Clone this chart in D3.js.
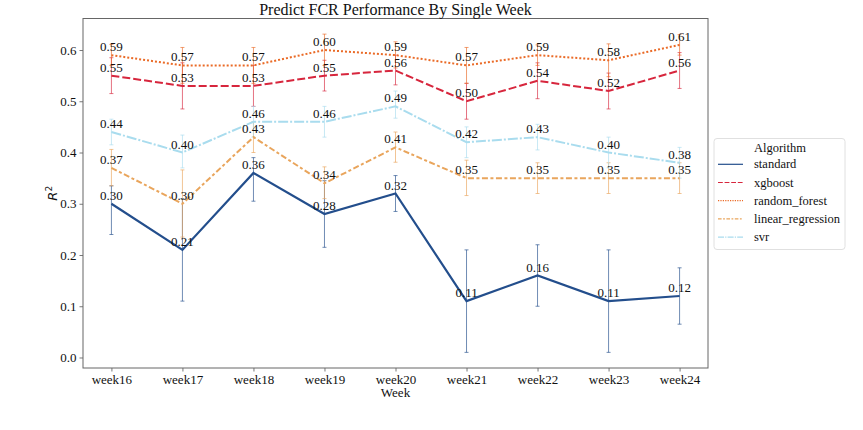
<!DOCTYPE html>
<html>
<head>
<meta charset="utf-8">
<script src="https://cdn.jsdelivr.net/npm/d3@7"></script>
<style>
  body { margin: 0; background: #fff; }
  svg text { font-family: "Liberation Serif", "Times New Roman", serif; }
</style>
</head>
<body>
<div id="chart"></div>
<script>
// Weekly R^2 per algorithm, with error bar bounds
const weeks = ['week16', 'week17', 'week18', 'week19', 'week20', 'week21', 'week22', 'week23', 'week24'];
const algorithms = ['standard', 'xgboost', 'random_forest', 'linear_regression', 'svr'];

const standardVals = [0.30, 0.21, 0.36, 0.28, 0.32, 0.11, 0.16, 0.11, 0.12];
const standardLow  = [0.24, 0.11, 0.305, 0.215, 0.285, 0.01, 0.10, 0.01, 0.065];
const standardHigh = [0.335, 0.31, 0.39, 0.345, 0.355, 0.21, 0.22, 0.21, 0.175];

const xgboostVals = [0.55, 0.53, 0.53, 0.55, 0.56, 0.50, 0.54, 0.52, 0.56];
const xgboostLow  = [0.515, 0.485, 0.49, 0.52, 0.532, 0.465, 0.505, 0.485, 0.525];
const xgboostHigh = [0.585, 0.575, 0.57, 0.58, 0.59, 0.535, 0.575, 0.555, 0.595];

const forestVals = [0.59, 0.57, 0.57, 0.60, 0.59, 0.57, 0.59, 0.58, 0.61];
const forestLow  = [0.57, 0.535, 0.535, 0.57, 0.565, 0.535, 0.57, 0.548, 0.59];
const forestHigh = [0.611, 0.605, 0.605, 0.631, 0.616, 0.605, 0.61, 0.612, 0.63];

const linearVals = [0.37, 0.30, 0.43, 0.34, 0.41, 0.35, 0.35, 0.35, 0.35];
const linearLow  = [0.335, 0.235, 0.40, 0.31, 0.381, 0.316, 0.32, 0.32, 0.32];
const linearHigh = [0.406, 0.366, 0.46, 0.372, 0.44, 0.385, 0.38, 0.38, 0.38];

const svrVals = [0.44, 0.40, 0.46, 0.46, 0.49, 0.42, 0.43, 0.40, 0.38];
const svrLow  = [0.415, 0.37, 0.43, 0.43, 0.467, 0.39, 0.405, 0.37, 0.35];
const svrHigh = [0.465, 0.434, 0.49, 0.49, 0.52, 0.45, 0.455, 0.43, 0.41];

const yTicks = [0.0, 0.1, 0.2, 0.3, 0.4, 0.5, 0.6];

const COLORS = {
  'standard': '#234e8c',
  'xgboost': '#d7263d',
  'random_forest': '#ea6a26',
  'linear_regression': '#e9a55c',
  'svr': '#a9dcee'
};
const DASHES = {
  'standard': null,
  'xgboost': '8,3',
  'random_forest': '2,2',
  'linear_regression': '6,2.5,3,2.5',
  'svr': '10,2,2,2'
};

const series = [
  { name: 'standard', vals: standardVals, low: standardLow, high: standardHigh },
  { name: 'xgboost', vals: xgboostVals, low: xgboostLow, high: xgboostHigh },
  { name: 'random_forest', vals: forestVals, low: forestLow, high: forestHigh },
  { name: 'linear_regression', vals: linearVals, low: linearLow, high: linearHigh },
  { name: 'svr', vals: svrVals, low: svrLow, high: svrHigh }
];

const width = 863, height = 430;
const plot = { left: 83, right: 708, top: 18.5, bottom: 368 };

const svg = d3.select('#chart').append('svg')
  .attr('width', width)
  .attr('height', height);

const x = d3.scalePoint().domain(weeks).range([plot.left, plot.right]).padding(0.4);
const y = d3.scaleLinear().domain([-0.0205, 0.6615]).range([plot.bottom, plot.top]);

// Axes
const xAxis = svg.append('g')
  .attr('transform', `translate(0,${plot.bottom})`)
  .call(d3.axisBottom(x).tickSize(3.5).tickPadding(3));
const yAxis = svg.append('g')
  .attr('transform', `translate(${plot.left},0)`)
  .call(d3.axisLeft(y).tickValues(yTicks).tickFormat(d3.format('.1f')).tickSize(3.5).tickPadding(3));

[xAxis, yAxis].forEach(a => {
  a.select('.domain').remove();
  a.selectAll('.tick line').attr('stroke', '#555').attr('stroke-width', 0.8);
  a.selectAll('.tick text')
    .attr('font-family', '"Liberation Serif", serif')
    .attr('font-size', '13px')
    .attr('fill', '#111');
});

// Frame
svg.append('rect')
  .attr('x', plot.left).attr('y', plot.top)
  .attr('width', plot.right - plot.left).attr('height', plot.bottom - plot.top)
  .attr('fill', 'none').attr('stroke', '#666').attr('stroke-width', 1);

const g = svg.append('g');

// Error bars
series.forEach(s => {
  const eb = g.append('g')
    .attr('stroke', COLORS[s.name])
    .attr('stroke-opacity', 0.65)
    .attr('stroke-width', 1);
  weeks.forEach((w, i) => {
    const cx = x(w);
    eb.append('line').attr('x1', cx).attr('x2', cx).attr('y1', y(s.low[i])).attr('y2', y(s.high[i]));
    eb.append('line').attr('x1', cx - 2).attr('x2', cx + 2).attr('y1', y(s.low[i])).attr('y2', y(s.low[i]));
    eb.append('line').attr('x1', cx - 2).attr('x2', cx + 2).attr('y1', y(s.high[i])).attr('y2', y(s.high[i]));
  });
});

// Lines
const line = d3.line().x((d, i) => x(weeks[i])).y(d => y(d));
series.forEach(s => {
  g.append('path')
    .datum(s.vals)
    .attr('d', line)
    .attr('fill', 'none')
    .attr('stroke', COLORS[s.name])
    .attr('stroke-width', s.name === 'standard' ? 2.2 : 2)
    .attr('stroke-dasharray', DASHES[s.name]);
});

// Value labels
series.forEach(s => {
  g.append('g').selectAll('text')
    .data(s.vals)
    .enter()
    .append('text')
    .attr('x', (d, i) => x(weeks[i]))
    .attr('y', d => y(d) - 4)
    .attr('text-anchor', 'middle')
    .attr('font-size', '13px')
    .attr('fill', '#111')
    .text(d => d3.format('.2f')(d));
});

// Title and axis labels
svg.append('text')
  .attr('x', (plot.left + plot.right) / 2)
  .attr('y', 15)
  .attr('text-anchor', 'middle')
  .attr('font-size', '16px')
  .attr('fill', '#111')
  .text('Predict FCR Performance By Single Week');

svg.append('text')
  .attr('x', (plot.left + plot.right) / 2)
  .attr('y', 397)
  .attr('text-anchor', 'middle')
  .attr('font-size', '13px')
  .attr('fill', '#111')
  .text('Week');

const yl = svg.append('text')
  .attr('transform', `translate(57,${(plot.top + plot.bottom) / 2}) rotate(-90)`)
  .attr('text-anchor', 'middle')
  .attr('font-size', '13px')
  .attr('fill', '#111')
  .style('font-family', '"DejaVu Sans", sans-serif')
  .style('font-style', 'italic');
yl.append('tspan').text('R');
yl.append('tspan').attr('dy', -5).attr('font-size', '9px').style('font-style', 'normal').text('2');

// Legend
const legend = svg.append('g');
legend.append('rect')
  .attr('x', 714).attr('y', 138.5)
  .attr('width', 131).attr('height', 111)
  .attr('rx', 3)
  .attr('fill', '#fff')
  .attr('stroke', '#e0e0e0')
  .attr('stroke-width', 1);
legend.append('text')
  .attr('x', 780).attr('y', 152)
  .attr('text-anchor', 'middle')
  .attr('font-size', '12.5px')
  .attr('fill', '#111')
  .text('Algorithm');
algorithms.forEach((name, i) => {
  const ly = 164.3 + i * 18.2;
  legend.append('line')
    .attr('x1', 718).attr('x2', 743)
    .attr('y1', ly).attr('y2', ly)
    .attr('stroke', COLORS[name])
    .attr('stroke-width', 1.2)
    .attr('stroke-dasharray', DASHES[name] ? DASHES[name].split(',').map(v => v * 0.6).join(',') : null);
  legend.append('text')
    .attr('x', 754).attr('y', ly + 4)
    .attr('font-size', '12.5px')
    .attr('fill', '#111')
    .text(name);
});
</script>
</body>
</html>
